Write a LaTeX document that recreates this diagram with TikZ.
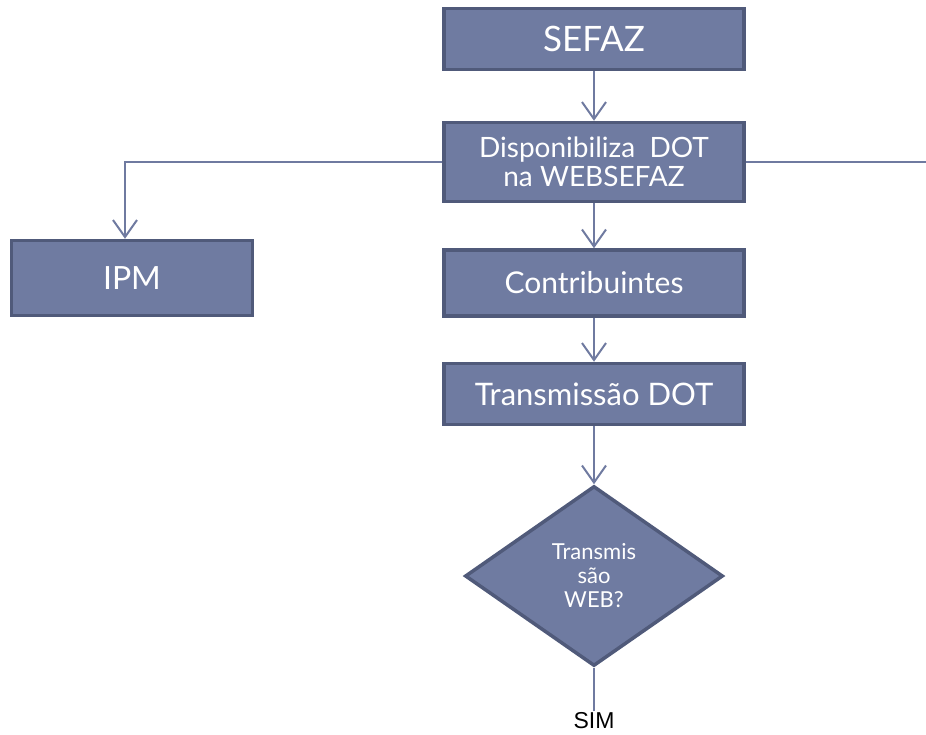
\documentclass[tikz,border=0pt]{standalone}
\usepackage{fontspec}
\setmainfont{Lato}
\newfontfamily\simfont{Liberation Sans}
\usetikzlibrary{shapes.geometric,arrows.meta}
\definecolor{caixa}{RGB}{111,123,161}
\definecolor{borda}{RGB}{80,90,122}
\definecolor{linha}{RGB}{111,122,160}
\begin{document}
\begin{tikzpicture}[x=1pt,y=-1pt,
    bloco/.style={draw=borda,fill=caixa,line width=3.5pt,text=white,
      minimum width=300pt,align=center,inner sep=0pt},
    decide/.style={diamond,draw=borda,fill=caixa,line width=3.5pt,text=white,
      minimum width=258pt,minimum height=180pt,align=center,inner sep=0pt},
    seta/.style={draw=linha,line width=2pt,-{Straight Barb[length=17pt,width=24pt,line width=2pt]}},
    fio/.style={draw=linha,line width=2pt}]
    \useasboundingbox (0,0) rectangle (926,734);
    %
    \node[bloco,minimum height=61pt,font=\fontsize{35}{40}\selectfont] (sefaz) at (594,39) {SEFAZ};
    \node[bloco,minimum height=79pt,font=\fontsize{28}{29}\selectfont] (dispo) at (594,162) {Disponibiliza~~DOT\\na WEBSEFAZ};
    \node[bloco,minimum height=66pt,font=\fontsize{30}{34}\selectfont] (contrib) at (594,283) {Contribuintes};
    \node[bloco,minimum height=61pt,font=\fontsize{31}{34}\selectfont] (transm) at (594,394) {Transmiss\~ao DOT};
    \node[bloco,minimum width=241pt,minimum height=75pt,font=\fontsize{32}{36}\selectfont] (ipm) at (132,278) {IPM};
    %
    \node[decide,font=\fontsize{22}{24}\selectfont] (web) at (594,576) {Transmis\\s\~ao\\WEB?};
    \node[font=\simfont\fontsize{23}{25}\selectfont,inner sep=2pt] (sim) at (594,721) {SIM};
    \coordinate (fora) at (926,162);
    %
    \draw[seta] (sefaz) -- (dispo);
    \draw[seta] (dispo) -- (contrib);
    \draw[seta] (contrib) -- (transm);
    \draw[seta] (transm) -- (web);
    \draw[seta] (dispo.west) -| ([xshift=-7pt]ipm.north);
    \draw[fio] (dispo.east) -- (fora);
    \draw[fio] (web.south) -- (sim.north);
\end{tikzpicture}
\end{document}
